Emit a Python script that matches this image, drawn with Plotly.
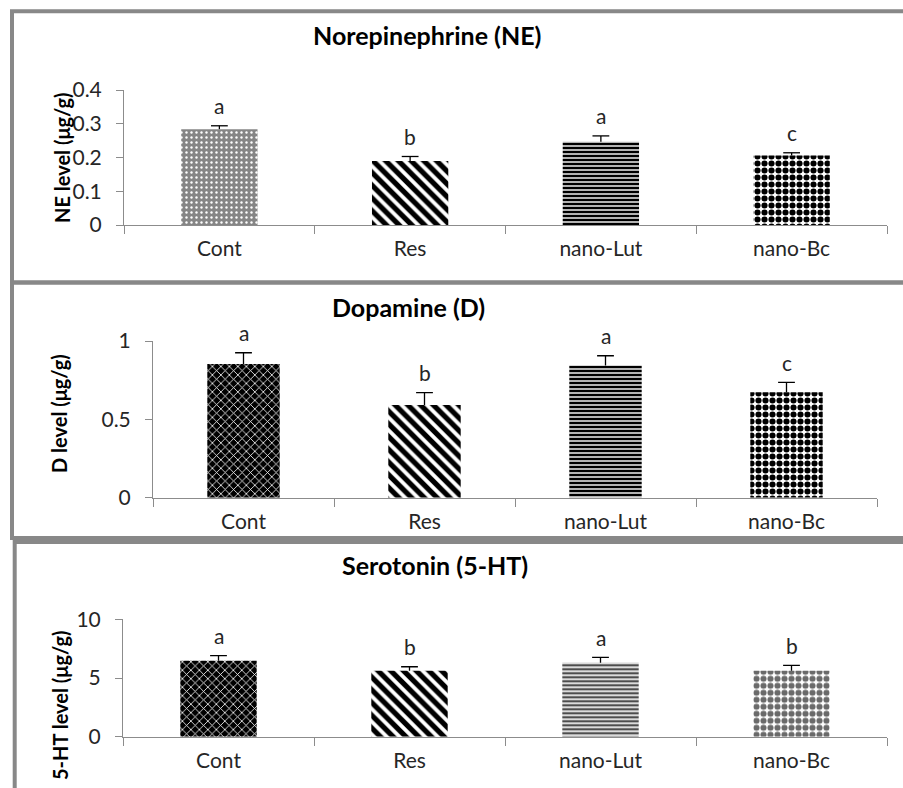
import plotly.graph_objects as go

W, H = 903, 788

categories = ["Cont", "Res", "nano-Lut", "nano-Bc"]

ne_values = [0.284, 0.190, 0.247, 0.206]
ne_errors = [0.010, 0.013, 0.017, 0.008]
ne_letters = ["a", "b", "a", "c"]

d_values = [0.853, 0.592, 0.843, 0.673]
d_errors = [0.072, 0.078, 0.063, 0.063]
d_letters = ["a", "b", "a", "c"]

ht_values = [6.47, 5.62, 6.30, 5.62]
ht_errors = [0.43, 0.34, 0.46, 0.46]
ht_letters = ["a", "b", "a", "b"]

titles = ["Norepinephrine (NE)", "Dopamine (D)", "Serotonin (5-HT)"]
ytitles = ["NE level (\u03bcg/g)", "D level (\u03bcg/g)", "5-HT level (\u03bcg/g)"]

FONT = "Lato"
GRAY = "#888888"
AX = "#8c8c8c"
TXT = "#262626"


def px(x):
    return x / W


def py(y):
    return 1 - y / H


panels = [
    dict(vals=ne_values, errs=ne_errors, letters=ne_letters, xd=[124, 887], yd=[225, 90],
         rng=[0, 0.4], dtick=0.1,
         pattern=dict(shape=[".", "\\", "-", "."],
                      bgcolor=["#858585", "white", "white", "white"],
                      fgcolor=["white", "black", "black", "black"],
                      size=[5, 9, 4, 7], solidity=[0.18, 0.58, 0.65, 0.6], fgopacity=1)),
    dict(vals=d_values, errs=d_errors, letters=d_letters, xd=[153, 877], yd=[497.7, 341],
         rng=[0, 1], dtick=0.5,
         pattern=dict(shape=["x", "\\", "-", "."],
                      bgcolor=["black", "white", "white", "white"],
                      fgcolor=["white", "black", "black", "black"],
                      size=[6, 9, 4, 7], solidity=[0.25, 0.58, 0.65, 0.6], fgopacity=1)),
    dict(vals=ht_values, errs=ht_errors, letters=ht_letters, xd=[123, 887], yd=[736.7, 619.3],
         rng=[0, 10], dtick=5,
         pattern=dict(shape=["x", "\\", "-", "."],
                      bgcolor=["black", "white", "white", "white"],
                      fgcolor=["white", "black", "#4d4d4d", "#6a6a6a"],
                      size=[6, 9, 4, 7], solidity=[0.25, 0.58, 0.6, 0.6], fgopacity=1)),
]

fig = go.Figure()
annotations = []
layout = {}
for i, p in enumerate(panels):
    n = "" if i == 0 else str(i + 1)
    xa, ya = "x" + n, "y" + n
    tops = [v + e for v, e in zip(p["vals"], p["errs"])]
    fig.add_trace(go.Bar(
        x=categories, y=p["vals"], xaxis=xa, yaxis=ya, width=0.4,
        marker=dict(color="white", line=dict(width=0), pattern=p["pattern"]),
        error_y=dict(type="data", symmetric=False, array=p["errs"], arrayminus=[0] * 4,
                     color="black", thickness=1.3, width=0),
        showlegend=False, hoverinfo="skip",
    ))
    fig.add_trace(go.Scatter(
        x=categories, y=tops, xaxis=xa, yaxis=ya, mode="markers",
        marker=dict(symbol="line-ew", size=12, line=dict(color="black", width=1.3)),
        showlegend=False, hoverinfo="skip",
    ))
    layout["xaxis" + n] = dict(
        domain=[px(p["xd"][0]), px(p["xd"][1])], anchor=ya, automargin=False,
        type="category", showline=True, linecolor=AX, linewidth=1,
        ticks="outside", tickson="boundaries", ticklen=8, tickcolor=AX,
        tickfont=dict(family=FONT, size=21, color=TXT), ticklabelstandoff=5,
        showgrid=False, zeroline=False, fixedrange=True,
    )
    layout["yaxis" + n] = dict(
        domain=[py(p["yd"][0]), py(p["yd"][1])], anchor=xa, automargin=False,
        range=p["rng"], dtick=p["dtick"], showline=True, linecolor=AX, linewidth=1,
        ticks="outside", ticklen=7, tickcolor=AX,
        tickfont=dict(family=FONT, size=21, color=TXT), ticklabelstandoff=10,
        showgrid=False, zeroline=False, fixedrange=True,
    )
    for c, t, l in zip(categories, tops, p["letters"]):
        annotations.append(dict(x=c, y=t, xref=xa, yref=ya, text=l, showarrow=False,
                                yanchor="middle", yshift=20,
                                font=dict(family=FONT, size=21, color=TXT)))

title_pos = [(427, 35), (408, 307), (435, 565)]
ytitle_pos = [(62, 158), (59, 413), (60, 705)]
for t, (x, y) in zip(titles, title_pos):
    annotations.append(dict(x=px(x), y=py(y), xref="paper", yref="paper", text="<b>%s</b>" % t,
                            showarrow=False, xanchor="center", yanchor="middle",
                            font=dict(family=FONT, size=25, color="black")))
for t, (x, y) in zip(ytitles, ytitle_pos):
    annotations.append(dict(x=px(x), y=py(y), xref="paper", yref="paper", text="<b>%s</b>" % t,
                            showarrow=False, xanchor="center", yanchor="middle", textangle=-90,
                            font=dict(family=FONT, size=20, color="black")))

frames = [(12, 11.3, 282.5), (12, 282.5, 538), (14.7, 542, 820)]
shapes = []
for x0, top, bottom in frames:
    shapes.append(dict(type="rect", xref="paper", yref="paper",
                       x0=px(x0), x1=px(W + 20), y0=py(bottom), y1=py(top),
                       line=dict(color=GRAY, width=4), fillcolor="rgba(0,0,0,0)", layer="above"))

fig.update_layout(
    width=W, height=H, margin=dict(l=0, r=0, t=0, b=0, pad=0), autosize=False,
    paper_bgcolor="white", plot_bgcolor="white",
    annotations=annotations, shapes=shapes, **layout,
)

fig.write_html(
    "out.html",
    config={"displayModeBar": False, "responsive": False},
    post_script="document.body.style.margin='0';document.body.style.overflow='hidden';",
)
